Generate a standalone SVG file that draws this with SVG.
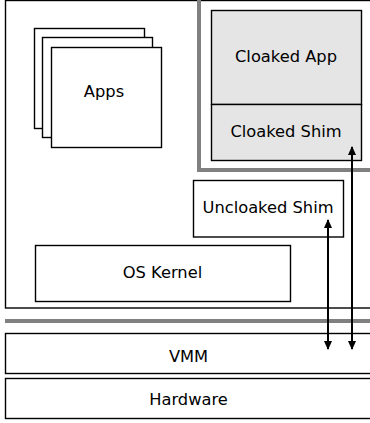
<svg xmlns="http://www.w3.org/2000/svg" width="370" height="423" viewBox="0 0 370 423">
<style>
.box{fill:#fff;stroke:#000;stroke-width:1.4}
.cl{fill:#e5e5e5;stroke:#000;stroke-width:1.4}
.t{font-family:"DejaVu Sans",sans-serif;font-size:16.3px;fill:#000;text-anchor:middle}
.g{fill:none;stroke:#808080;stroke-width:4}
.a{stroke:#000;stroke-width:2;fill:none}
</style>
<defs>
<marker id="ah" viewBox="0 0 10 10" refX="9" refY="5" markerWidth="4.5" markerHeight="4.5" orient="auto-start-reverse" markerUnits="strokeWidth">
<path d="M0,0.5 L10,5 L0,9.5 z" fill="#000"/>
</marker>
</defs>
<g id="guest">
<rect class="box" x="5.5" y="0.5" width="380" height="307.5"/>
</g>
<g id="cloak-boundary">
<path class="g" d="M199,0 V170 H372"/>
</g>
<g id="vmm-boundary">
<path class="g" d="M5,321 H372"/>
</g>
<g id="apps">
<rect class="box" x="34.5" y="28.5" width="110" height="100"/>
<rect class="box" x="42.5" y="37.5" width="110" height="100"/>
<rect class="box" x="51.5" y="47.5" width="110" height="100"/>
<text class="t" x="104" y="97">Apps</text>
</g>
<g id="cloaked-app">
<rect class="cl" x="211.5" y="10.5" width="150" height="94"/>
<text class="t" x="286" y="62">Cloaked App</text>
</g>
<g id="cloaked-shim">
<rect class="cl" x="211.5" y="104.5" width="150" height="56"/>
<text class="t" x="286" y="137">Cloaked Shim</text>
</g>
<g id="uncloaked-shim">
<rect class="box" x="193.5" y="180.5" width="150" height="56.5"/>
<text class="t" x="268" y="213">Uncloaked Shim</text>
</g>
<g id="os-kernel">
<rect class="box" x="35.5" y="245.5" width="255" height="56"/>
<text class="t" x="162.5" y="278">OS Kernel</text>
</g>
<g id="vmm">
<rect class="box" x="5.5" y="333.5" width="380" height="40"/>
<text class="t" x="188.5" y="362">VMM</text>
</g>
<g id="hardware">
<rect class="box" x="5.5" y="378.5" width="380" height="40"/>
<text class="t" x="188.5" y="405">Hardware</text>
</g>
<g id="connectors">
<line class="a" x1="328" y1="220" x2="328" y2="349" marker-start="url(#ah)" marker-end="url(#ah)"/>
<line class="a" x1="352" y1="147" x2="352" y2="349" marker-start="url(#ah)" marker-end="url(#ah)"/>
</g>
</svg>
